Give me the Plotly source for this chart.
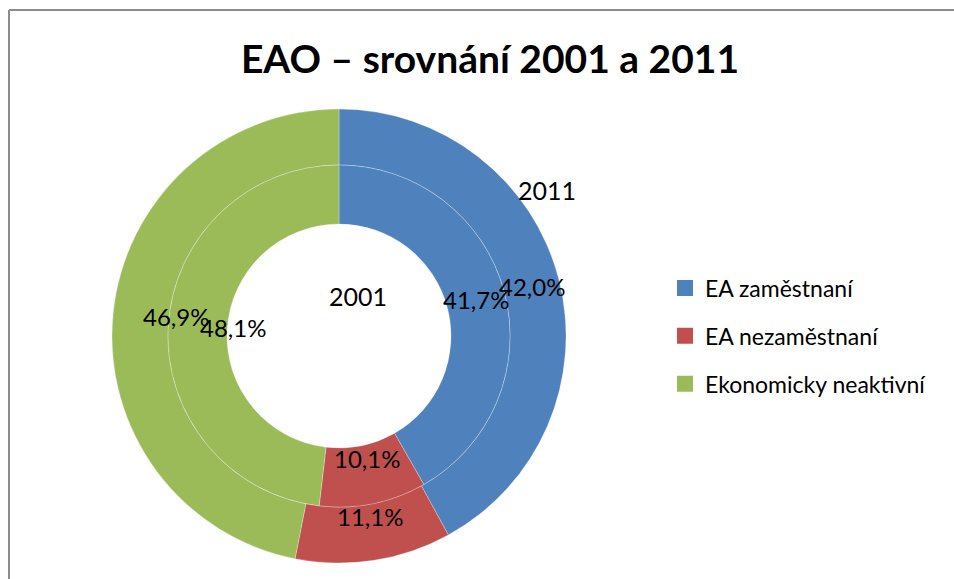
import math
import plotly.graph_objects as go

categories = ["EA zaměstnaní", "EA nezaměstnaní", "Ekonomicky neaktivní"]
values_2001 = [41.7, 10.1, 48.1]
values_2011 = [42.0, 11.1, 46.9]
labels_2001 = ["41,7%", "10,1%", "48,1%"]
labels_2011 = ["42,0%", "11,1%", "46,9%"]
colors = ["#4F81BD", "#C0504D", "#9BBB59"]

W, H = 954, 579
CX, CY = 339, 336            # pixel center of the donut
R_OUT, R_MID, R_HOLE = 227, 171, 112
FONT = "Lato"

def px(x):
    return x / W

def py(y):
    return 1 - y / H

def px_dom(r):
    return dict(x=[px(CX - r), px(CX + r)], y=[py(CY + r), py(CY - r)])

fig = go.Figure()
line = dict(color="rgba(255,255,255,0.35)", width=0.8)
fig.add_trace(go.Pie(labels=categories, values=values_2011, name="2011",
                     domain=px_dom(R_OUT), hole=R_MID / R_OUT, sort=False,
                     direction="clockwise", rotation=0, textinfo="none",
                     marker=dict(colors=colors, line=line), showlegend=False,
                     hoverinfo="label+value"))
fig.add_trace(go.Pie(labels=categories, values=values_2001, name="2001",
                     domain=px_dom(R_MID), hole=R_HOLE / R_MID, sort=False,
                     direction="clockwise", rotation=0, textinfo="none",
                     marker=dict(colors=colors, line=line), showlegend=False,
                     hoverinfo="label+value"))

# legend entries
for cat, col in zip(categories, colors):
    fig.add_trace(go.Scatter(x=[None], y=[None], mode="markers", name=cat,
                             legendgroup=cat,
                             marker=dict(symbol="square", size=16, color=col)))

def add_labels(vals, texts, r_in, r_out):
    total = sum(vals)
    cum = 0
    rm = (r_in + r_out) / 2
    for v, t in zip(vals, texts):
        mid = (cum + v / 2) / total * 2 * math.pi
        cum += v
        x = CX + rm * math.sin(mid)
        y = CY - rm * math.cos(mid)
        fig.add_annotation(x=px(x), y=py(y), xref="paper", yref="paper",
                           text=t, showarrow=False,
                           font=dict(family=FONT, size=24, color="#000"))

add_labels(values_2011, labels_2011, R_MID, R_OUT)
add_labels(values_2001, labels_2001, R_HOLE, R_MID)

fig.add_annotation(x=px(547), y=py(173), xref="paper", yref="paper",
                   text="2011", showarrow=False,
                   font=dict(family=FONT, size=25, color="#000"))
fig.add_annotation(x=px(358), y=py(296), xref="paper", yref="paper",
                   text="2001", showarrow=False,
                   font=dict(family=FONT, size=25, color="#000"))

border = dict(color="#8c8c8c", width=2)
fig.add_shape(type="line", xref="paper", yref="paper",
              x0=px(9), x1=1.0, y0=py(10), y1=py(10), line=border)
fig.add_shape(type="line", xref="paper", yref="paper",
              x0=px(9), x1=px(9), y0=0.0, y1=py(10), line=border)

fig.update_layout(
    width=W, height=H,
    margin=dict(l=0, r=0, t=0, b=0),
    paper_bgcolor="white", plot_bgcolor="white",
    title=dict(text="<b>EAO – srovnání 2001 a 2011</b>", x=px(490),
               xanchor="center", y=py(59), yanchor="middle",
               font=dict(family=FONT, size=39, color="#000")),
    xaxis=dict(visible=False), yaxis=dict(visible=False),
    legend=dict(x=px(665), xanchor="left", y=py(336), yanchor="middle",
                tracegroupgap=15, font=dict(family=FONT, size=23, color="#000"),
                bgcolor="rgba(0,0,0,0)"),
)

fig.write_html(
    "out.html",
    config={"displayModeBar": False},
    post_script="document.body.style.margin='0';"
                "document.body.style.overflow='hidden';",
)
